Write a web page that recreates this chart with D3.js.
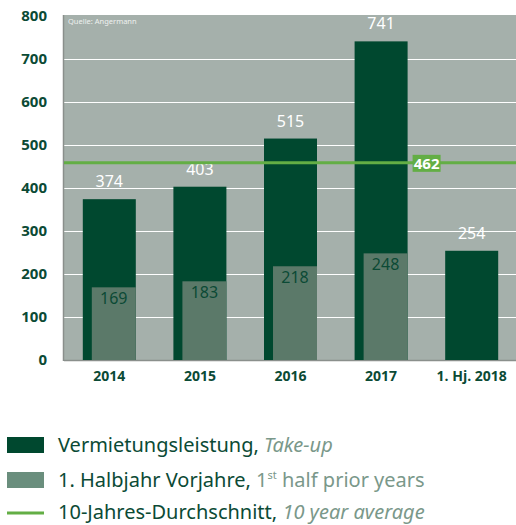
<!DOCTYPE html>
<html lang="de">
<head>
<meta charset="UTF-8">
<title>Vermietungsleistung</title>
<script src="https://d3js.org/d3.v7.min.js"></script>
<style>
  body { margin: 0; background: #fff; }
  svg { display: block; font-family: "Noto Sans", "Open Sans", sans-serif; }
</style>
</head>
<body>
<div id="chart"></div>
<script>
// chart data
const categories = ["2014", "2015", "2016", "2017", "1. Hj. 2018"];
const takeUp = [374, 403, 515, 741, 254];
const firstHalf = [169, 183, 218, 248, null];
const tenYearAvg = 462;
const yTicks = [0, 100, 200, 300, 400, 500, 600, 700, 800];

const dark = "#00482f", light = "#5b7969", bg = "#a5b0ab", lime = "#63ae45";
const textGreen = "#0b4a35", mutedGreen = "#7a988a";

const width = 516, height = 525;
const margin = { top: 15, right: 0, bottom: 165, left: 64 };

const svg = d3.select("#chart").append("svg")
  .attr("width", width).attr("height", height);

const x = d3.scaleBand().domain(categories)
  .range([margin.left, width + 1]).paddingInner(0.415).paddingOuter(0.2075);
const y = d3.scaleLinear().domain([0, 800]).range([height - margin.bottom, margin.top + 1]);

// plot background
svg.append("rect")
  .attr("x", margin.left).attr("y", margin.top)
  .attr("width", width - margin.left).attr("height", y(0) - margin.top)
  .attr("fill", bg);

svg.append("text").attr("x", margin.left + 4).attr("y", margin.top + 9)
  .attr("fill", "#eef1ef").attr("font-size", 7.5).text("Quelle: Angermann");

// gridlines
svg.selectAll(".grid").data(yTicks.filter(d => d > 0 && d < 800)).enter()
  .append("line")
  .attr("x1", margin.left).attr("x2", width)
  .attr("y1", d => Math.round(y(d)) + 0.5).attr("y2", d => Math.round(y(d)) + 0.5)
  .attr("stroke", "#fff").attr("stroke-width", 1);

// y axis labels
const yAxis = d3.axisLeft(y).tickValues(yTicks).tickSize(0).tickPadding(17);
svg.append("g").attr("transform", `translate(${margin.left},0)`).call(yAxis)
  .call(g => g.select(".domain").remove())
  .selectAll("text")
  .attr("fill", textGreen).attr("font-size", 15).attr("font-weight", "bold")
  .attr("font-family", "Open Sans, sans-serif");

// axis lines
svg.append("line").attr("x1", margin.left - 0.5).attr("x2", margin.left - 0.5)
  .attr("y1", margin.top).attr("y2", y(0) + 1).attr("stroke", "#8a8f8c").attr("stroke-width", 1.5);
svg.append("line").attr("x1", margin.left).attr("x2", width)
  .attr("y1", y(0) + 0.5).attr("y2", y(0) + 0.5).attr("stroke", "#8a8f8c").attr("stroke-width", 1.5);

// dark bars
const bw = x.bandwidth();
const lightW = bw * 0.83;
svg.selectAll(".bar").data(categories).enter().append("rect")
  .attr("x", d => x(d)).attr("width", bw)
  .attr("y", (d, i) => y(takeUp[i])).attr("height", (d, i) => y(0) - y(takeUp[i]))
  .attr("fill", dark);

// light bars
const lightData = categories.map((c, i) => ({ c, v: firstHalf[i] })).filter(d => d.v != null);
svg.selectAll(".lbar").data(lightData).enter().append("rect")
  .attr("x", d => x(d.c) + bw - lightW).attr("width", lightW)
  .attr("y", d => y(d.v)).attr("height", d => y(0) - y(d.v))
  .attr("fill", light);

// value labels
svg.selectAll(".vlab").data(categories).enter().append("text")
  .attr("x", d => x(d) + bw / 2).attr("y", (d, i) => y(takeUp[i]) - 12)
  .attr("text-anchor", "middle").attr("fill", "#fff").attr("font-size", 16)
  .text((d, i) => takeUp[i]);

svg.selectAll(".llab").data(lightData).enter().append("text")
  .attr("x", d => x(d.c) + bw - lightW / 2).attr("y", d => y(d.v) + 17)
  .attr("text-anchor", "middle").attr("fill", textGreen).attr("font-size", 16)
  .text(d => d.v);

// average line
svg.append("line").attr("x1", margin.left).attr("x2", width)
  .attr("y1", y(tenYearAvg) + 1.5).attr("y2", y(tenYearAvg) + 1.5)
  .attr("stroke", lime).attr("stroke-width", 3);
const avgX = x("2017") + bw + 5;
svg.append("rect").attr("x", avgX).attr("y", y(tenYearAvg) - 6.5)
  .attr("width", 28).attr("height", 17).attr("fill", lime);
svg.append("text").attr("x", avgX + 14).attr("y", y(tenYearAvg) + 7.5)
  .attr("text-anchor", "middle").attr("fill", "#fff").attr("font-size", 15)
  .attr("font-weight", "bold").text(tenYearAvg);

// x axis labels
const xAxis = d3.axisBottom(x).tickSize(0).tickPadding(11);
svg.append("g").attr("transform", `translate(0,${y(0)})`).call(xAxis)
  .call(g => g.select(".domain").remove())
  .selectAll("text")
  .attr("fill", textGreen).attr("font-size", 14).attr("font-weight", "bold")
  .attr("font-family", "Open Sans, sans-serif");

// legend
const legend = svg.append("g");
const rows = [
  { type: "rect", color: dark, de: "Vermietungsleistung, ", en: "Take-up", italic: true },
  { type: "rect", color: "#6a8e7d", de: "1. Halbjahr Vorjahre, ", en: "half prior years", sup: true },
  { type: "line", color: lime, de: "10-Jahres-Durchschnitt, ", en: "10 year average", italic: true }
];
const rowY = [452, 487, 519];
rows.forEach((r, i) => {
  const base = rowY[i];
  if (r.type === "rect") {
    legend.append("rect").attr("x", 7).attr("y", base - 15).attr("width", 37).attr("height", 16).attr("fill", r.color);
  } else {
    legend.append("line").attr("x1", 7).attr("x2", 44).attr("y1", base - 6).attr("y2", base - 6)
      .attr("stroke", r.color).attr("stroke-width", 3);
  }
  const t = legend.append("text").attr("x", 58).attr("y", base).attr("font-size", 20).attr("fill", textGreen);
  t.append("tspan").text(r.de);
  if (r.sup) {
    t.append("tspan").attr("fill", mutedGreen).text("1");
    t.append("tspan").attr("fill", mutedGreen).attr("font-size", 11).attr("dy", -8).text("st");
    t.append("tspan").attr("fill", mutedGreen).attr("dy", 8).text(" " + r.en);
  } else {
    t.append("tspan").attr("fill", mutedGreen).attr("font-style", r.italic ? "italic" : null).text(r.en);
  }
});
</script>
</body>
</html>
